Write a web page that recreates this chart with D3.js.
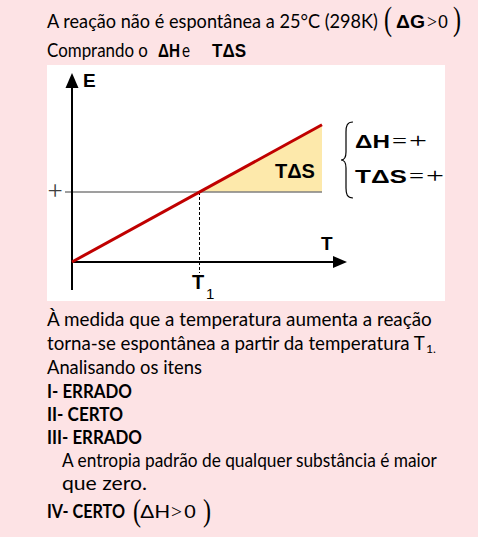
<!DOCTYPE html>
<html>
<head>
<meta charset="utf-8">
<script src="https://cdn.jsdelivr.net/npm/d3@7"></script>
<style>
  html, body { margin: 0; padding: 0; background: #fde3e5; }
  svg { display: block; }
</style>
</head>
<body>
<svg id="chart" width="478" height="537"></svg>
<script>
// ---- data ----
const lineT = [0, 10];          // temperature at ends of the TΔS line
const lineE = [0, 9.8];         // TΔS energy at those temperatures
const deltaH = 5;               // ΔH level
const T1 = 5.1;                 // crossing temperature
const shadeT = [5.1, 10];       // shaded region (TΔS > ΔH)
const shadeE = [5, 9.8];
const axisLabels = ["E", "T"];
const signLabel = "+";

const svg = d3.select("#chart");
svg.append("rect").attr("width", 478).attr("height", 537).attr("fill", "#fde3e5");
svg.append("rect").attr("x", 47).attr("y", 65).attr("width", 398).attr("height", 236).attr("fill", "#ffffff");

const body = "Lato, 'Open Sans', sans-serif";
const sans = "'Liberation Sans', Arial, sans-serif";
const serif = "'Liberation Serif', 'Times New Roman', serif";
const BS = 19.5;

function txt(x, y, s, o = {}) {
  const t = svg.append("text").text(s)
    .attr("font-family", o.family || body)
    .attr("font-size", o.size || BS)
    .attr("font-weight", o.weight || "normal")
    .attr("fill", o.fill || "#000");
  if (o.anchor) t.attr("text-anchor", o.anchor);
  if (o.width) {
    const len = t.node().getComputedTextLength();
    const sx = len > 0 ? o.width / len : 1;
    t.attr("x", 0).attr("y", 0).attr("transform", `translate(${x},${y}) scale(${sx},1)`);
  } else {
    t.attr("x", x).attr("y", y);
  }
  return t;
}

// ---- header ----
txt(47, 28, "A reação não é espontânea a 25°C (298K)", {width: 331});
txt(384, 30, "(", {family: serif, size: 34, width: 8});
txt(396, 28, "ΔG", {family: sans, size: 18, weight: "bold", width: 29});
txt(427, 28, ">", {family: serif, size: 18, width: 10});
txt(438, 28, "0", {family: sans, size: 18, width: 10});
txt(453, 30, ")", {family: serif, size: 34, width: 8});

txt(47, 57, "Comprando o", {width: 101});
txt(158, 57, "ΔH", {family: sans, size: 19, weight: "bold", width: 22});
txt(182, 57, "e", {width: 8});
txt(212, 57, "TΔS", {family: sans, size: 19, weight: "bold", width: 34});

// ---- chart ----
const x = d3.scaleLinear().domain([0, 11]).range([72, 347]);
const y = d3.scaleLinear().domain([0, 13.5]).range([262, 73]);

// shaded area
const shade = shadeT.map((t, i) => ({t, e: shadeE[i]}));
svg.append("path")
  .datum(shade)
  .attr("fill", "#fde9ab")
  .attr("d", d3.area().x(d => x(d.t)).y0(y(deltaH)).y1(d => y(d.e)));

// ΔH line
svg.append("line")
  .attr("x1", 65).attr("x2", x(lineT[1]))
  .attr("y1", y(deltaH)).attr("y2", y(deltaH))
  .attr("stroke", "#7f7f7f").attr("stroke-width", 1.5);
txt(55, y(deltaH) + 8, signLabel, {family: serif, size: 27, anchor: "middle", fill: "#404040"});

// dashed T1
svg.append("line")
  .attr("x1", x(T1)).attr("x2", x(T1))
  .attr("y1", y(deltaH)).attr("y2", 273)
  .attr("stroke", "#000").attr("stroke-width", 1).attr("stroke-dasharray", "3,2");

// axes
const yAxis = svg.append("g");
yAxis.append("line").attr("x1", x(0)).attr("x2", x(0)).attr("y1", 290).attr("y2", 85)
  .attr("stroke", "#000").attr("stroke-width", 2);
yAxis.append("path").attr("d", `M${x(0)},${73} L${x(0)+6.5},${88} L${x(0)-6.5},${88} Z`).attr("fill", "#000");
txt(83, 87, axisLabels[0], {family: sans, size: 19, weight: "bold"});

const xAxis = svg.append("g");
xAxis.append("line").attr("x1", x(0)).attr("x2", 335).attr("y1", y(0)).attr("y2", y(0))
  .attr("stroke", "#000").attr("stroke-width", 2);
xAxis.append("path").attr("d", `M${x(11)},${y(0)} L${x(11)-14},${y(0)-6} L${x(11)-14},${y(0)+6} Z`).attr("fill", "#000");
txt(321, 250, axisLabels[1], {family: sans, size: 19, weight: "bold"});

// T1 label
txt(192, 289, "T", {family: sans, size: 20, weight: "bold"});
txt(206, 299, "1", {family: sans, size: 15});

// red TΔS line
svg.append("path")
  .datum(lineT.map((t, i) => ({t, e: lineE[i]})))
  .attr("fill", "none").attr("stroke", "#c00000").attr("stroke-width", 3)
  .attr("d", d3.line().x(d => x(d.t)).y(d => y(d.e)));

txt(275, 178, "TΔS", {family: sans, size: 21, weight: "bold", width: 40});

// brace
svg.append("path")
  .attr("d", "M353,122 C347,122 346,126 346,132 L346,152 C346,157 344,160 341,160 C344,160 346,163 346,168 L346,188 C346,194 347,198 353,198")
  .attr("fill", "none").attr("stroke", "#000").attr("stroke-width", 1.2);
txt(355, 148, "ΔH", {family: sans, size: 19, weight: "bold", width: 35});
txt(392, 148, "=", {family: serif, size: 22, width: 15});
txt(409, 148, "+", {family: serif, size: 22, width: 18});
txt(355, 183, "TΔS", {family: sans, size: 19, weight: "bold", width: 52});
txt(409, 183, "=", {family: serif, size: 22, width: 15});
txt(426, 183, "+", {family: serif, size: 22, width: 18});

// ---- body text ----
txt(47, 326, "À medida que a temperatura aumenta a reação", {width: 385});
txt(47, 350, "torna-se espontânea a partir da temperatura T", {width: 378});
txt(426, 353, "1.", {size: 12, width: 10});
txt(47, 374, "Analisando os itens", {width: 155});
txt(47, 398, "I- ERRADO", {weight: "bold", width: 85});
txt(47, 421, "II- CERTO", {weight: "bold", width: 76});
txt(47, 444, "III- ERRADO", {weight: "bold", width: 95});
txt(62, 467, "A entropia padrão de qualquer substância é maior", {width: 375});
txt(62, 490, "que zero.", {width: 85});
txt(47, 518, "IV- CERTO", {weight: "bold", width: 78});
txt(133, 521, "(", {family: serif, size: 32, width: 8});
txt(140, 518, "ΔH", {family: sans, size: 18, width: 30});
txt(171, 518, ">", {family: serif, size: 18, width: 11});
txt(184, 518, "0", {family: sans, size: 18, width: 12});
txt(203, 521, ")", {family: serif, size: 32, width: 8});
</script>
</body>
</html>
